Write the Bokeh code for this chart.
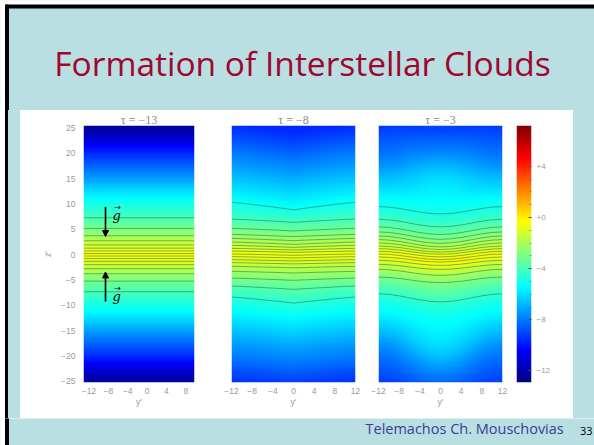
import numpy as np
from bokeh.plotting import figure
from bokeh.models import Range1d, LinearColorMapper, FixedTicker, Arrow, NormalHead, Spacer
from bokeh.layouts import column, row
from bokeh.core.properties import value
from bokeh.embed import file_html
from bokeh.resources import INLINE

# ---------------- data ----------------
SLIDE_TITLE = "Formation of Interstellar Clouds"
AUTHOR = "Telemachos Ch. Mouschovias"
PAGE_NO = "33"
PANEL_TITLES = ["τ = −13", "τ = −8", "τ = −3"]

# log-density profiles versus |z'| (colour scale values)
Z_SAMPLES = [0, 2, 4, 6, 8, 10, 12, 14, 16, 18, 20, 22, 24, 26]
LOGRHO_T13 = [-0.3, -1.2, -2.4, -3.4, -4.2, -4.9, -5.7, -6.7, -7.7, -8.6, -9.5, -10.7, -11.8, -12.5]
LOGRHO_T8 = [-0.4, -1.5, -2.6, -3.6, -4.4, -5.0, -5.6, -6.2, -6.8, -7.4, -7.9, -8.5, -9.1, -9.6]
LOGRHO_T3_EDGE = [-0.4, -1.5, -2.7, -3.7, -4.5, -5.1, -5.6, -6.3, -6.9, -7.6, -8.1, -8.5, -8.9, -9.3]
LOGRHO_T3_MID = [0.0, -1.3, -2.6, -3.6, -4.4, -5.0, -5.3, -5.6, -5.9, -6.4, -7.1, -7.8, -8.4, -9.0]

# field lines: height z' at the panel edges and their sag at y' = 0
LINES_T13 = [7.3, 5.2, 3.75, 2.75, 1.95, 1.3, 0.75, 0.25, -0.25, -0.75, -1.3, -1.95, -2.75, -3.75, -5.2, -7.3]
LINES_T8 = [10.35, 7.05, 5.22, 4.03, 3.24, 2.51, 1.86, 1.27, 0.73, 0.15, -0.37, -0.96, -1.55, -2.28, -3.27, -4.59, -6.17, -8.34]
SAG_T8 = [1.5, 0.66, 0.53, 0.46, 0.46, 0.46, 0.4, 0.33, 0.26, 0.26, 0.26, 0.26, 0.26, 0.3, 0.33, 0.46, 0.66, 1.2]
LINES_T3 = [9.5, 7.0, 5.5, 4.5, 3.7, 3.0, 2.33, 1.73, 1.2, 0.68, 0.15, -0.44, -1.1, -1.9, -2.87, -4.4, -7.7]
SAG_T3 = [1.45, 1.5, 1.5, 1.45, 1.45, 1.45, 1.3, 1.2, 1.1, 1.1, 1.1, 1.0, 1.0, 1.0, 1.2, 1.1, 1.6]
SHAPE_Y = [-12, -10, -8, -6, -4, -2, 0, 2, 4, 6, 8, 10, 12]
SHAPE_T8 = [0, 0.12, 0.28, 0.45, 0.62, 0.8, 1, 0.8, 0.62, 0.45, 0.28, 0.12, 0]
SHAPE_T3 = [0, 0.07, 0.25, 0.5, 0.75, 0.93, 1, 0.93, 0.75, 0.5, 0.25, 0.07, 0]

X_TICKS_1 = [-12, -8, -4, 0, 4, 8]
X_TICKS = [-12, -8, -4, 0, 4, 8, 12]
Z_TICKS = [-25, -20, -15, -10, -5, 0, 5, 10, 15, 20, 25]
CB_TICKS = [4, 0, -4, -8, -12]
CB_LOW, CB_HIGH = -12.9, 7.2

# g-vector arrows in the first panel
ARROWS = [(-8.6, 9.4, -8.6, 3.6), (-8.6, -9.2, -8.6, -3.4)]
G_LABELS_X = [-6.3, -6.3]
G_LABELS_Z = [7.8, -8.3]

# ---------------- styles ----------------
BG = "#BADFE2"
GRAY = "#9a9a9a"
TICK_FONT = "Liberation Sans"
Y1_RANGE = (-13.15, 9.8)
Y_RANGE = (-12, 12)
Z_RANGE = (-25.2, 25.5)
BAND_H = 308


def jet(n=256):
    x = np.linspace(0, 1, n)
    r = np.clip(1.5 - np.abs(4 * x - 3), 0, 1)
    g = np.clip(1.5 - np.abs(4 * x - 2), 0, 1)
    b = np.clip(1.5 - np.abs(4 * x - 1), 0, 1)
    return ["#%02x%02x%02x" % (int(255 * R), int(255 * G), int(255 * B)) for R, G, B in zip(r, g, b)]


mapper = LinearColorMapper(palette=jet(), low=CB_LOW, high=CB_HIGH)


def minus_labels(ticks, plus=False):
    out = {}
    for t in ticks:
        if t < 0:
            out[t] = "\u2212%d" % (-t)
        else:
            out[t] = ("+%d" % t) if plus else ("%d" % t)
    return out


def style_axis(ax, ticks, plus=False):
    ax.ticker = FixedTicker(ticks=ticks)
    ax.major_label_overrides = minus_labels(ticks, plus)
    ax.axis_line_color = None
    ax.major_tick_line_color = None
    ax.minor_tick_line_color = None
    ax.major_tick_out = 0
    ax.major_tick_in = 0
    ax.minor_tick_out = 0
    ax.minor_tick_in = 0
    ax.major_label_text_color = GRAY
    ax.major_label_text_font = TICK_FONT
    ax.major_label_text_font_size = "8.5px"
    ax.axis_label_text_color = GRAY
    ax.axis_label_text_font = TICK_FONT
    ax.axis_label_text_font_size = "8.5px"
    ax.axis_label_text_font_style = "normal"


def canvas(w, h, top_border=False):
    f = figure(width=w, height=h, x_range=Range1d(0, w), y_range=Range1d(h, 0),
               x_axis_type=None, y_axis_type=None, output_backend="svg",
               toolbar_location=None, min_border=0)
    f.grid.visible = False
    f.outline_line_color = None
    f.background_fill_color = BG
    f.border_fill_color = BG
    f.quad(left=0, right=5, top=0, bottom=h, color="white")
    if top_border:
        f.quad(left=0, right=w, top=0, bottom=4.5, color="white")
        f.quad(left=5, right=w, top=4.5, bottom=7.5, color="black")
        f.quad(left=5, right=8, top=4.5, bottom=h, color="black")
    else:
        f.quad(left=5, right=8, top=0, bottom=h, color="black")
    return f


def density_image(yr, edge_prof, mid_prof, lines, sags, shape):
    ys = np.linspace(yr[0], yr[1], 140)
    zs = np.linspace(Z_RANGE[0], Z_RANGE[1], 300)
    if shape is None:
        S = np.zeros_like(ys)
        sag = np.zeros_like(zs)
    else:
        S = np.interp(ys, SHAPE_Y, shape)
        sag = np.interp(zs, lines[::-1], sags[::-1])
    zz = np.abs(zs[:, None] + sag[:, None] * S[None, :])
    e = np.interp(zz, Z_SAMPLES, edge_prof)
    m = np.interp(zz, Z_SAMPLES, mid_prof)
    return (1 - S[None, :]) * e + S[None, :] * m


def set_title(f, text, alpha=1.0):
    f.title.text = text
    f.title.align = "center"
    f.title.text_font = "Liberation Serif"
    f.title.text_font_size = "12px"
    f.title.text_font_style = "normal"
    f.title.text_color = "#8a8a8a"
    f.title.text_alpha = alpha
    f.title.standoff = -2


def panel(title, yr, width, mb_left, mb_right, ticks, edge_prof, mid_prof, lines, sags, shape, first=False):
    f = figure(width=width, height=BAND_H, x_range=Range1d(*yr), y_range=Range1d(*Z_RANGE),
               output_backend="svg", toolbar_location=None,
               y_axis_location="left" if first else None,
               min_border_left=mb_left, min_border_right=mb_right,
               min_border_top=15, min_border_bottom=36)
    f.grid.visible = False
    f.outline_line_color = None
    f.background_fill_color = "white"
    f.border_fill_color = "white"
    set_title(f, title)

    img = density_image(yr, edge_prof, mid_prof, lines, sags, shape)
    f.image(image=[img], x=yr[0], y=Z_RANGE[0], dw=yr[1] - yr[0], dh=Z_RANGE[1] - Z_RANGE[0],
            color_mapper=mapper)

    if shape is None:
        xs = [[yr[0], yr[1]] for _ in lines]
        zs = [[z, z] for z in lines]
    else:
        xs = [list(SHAPE_Y) for _ in lines]
        zs = [[z - s * v for v in shape] for z, s in zip(lines, sags)]
    f.multi_line(xs=xs, ys=zs, line_color="#2b6a50", line_alpha=0.6, line_width=0.9)

    style_axis(f.xaxis[0], ticks)
    f.xaxis.axis_label = "y\u2032"
    f.xaxis.major_label_standoff = 5
    f.xaxis.axis_label_standoff = 0
    if first:
        style_axis(f.yaxis[0], Z_TICKS)
        f.yaxis.axis_label = "z\u2032"
        f.yaxis.major_label_standoff = 8
        f.yaxis.axis_label_standoff = 5
    return f


# ---------------- slide pieces ----------------
W = 594
title_fig = canvas(W, 110, top_border=True)
title_fig.text(x=[302], y=[62], text=[SLIDE_TITLE], text_align="center", text_baseline="alphabetic",
               text_font=value("Open Sans"), text_font_size="33.5px", text_color="#A0062E")

left_sp = Spacer(width=20, height=BAND_H, styles={
    "background": "linear-gradient(to right, #ffffff 0px, #ffffff 5px, #000000 5px, #000000 8px, %s 8px)" % BG})
right_sp = Spacer(width=21, height=BAND_H, styles={"background": BG})

f1 = panel(PANEL_TITLES[0], Y1_RANGE, 192, 63, 18, X_TICKS_1, LOGRHO_T13, LOGRHO_T13,
           LINES_T13, None, None, first=True)
for (xs0, zs0, xe0, ze0) in ARROWS:
    f1.add_layout(Arrow(end=NormalHead(size=6, fill_color="black", line_color="black"),
                        x_start=xs0, y_start=zs0, x_end=xe0, y_end=ze0,
                        line_width=1.6, line_color="black"))
f1.text(x=G_LABELS_X, y=G_LABELS_Z, text=["g", "g"], text_align="center",
        text_baseline="middle", text_font=value("DejaVu Serif"), text_font_style="italic",
        text_font_size="13px", text_color="black")
f1.text(x=G_LABELS_X, y=G_LABELS_Z, text=["\u2192", "\u2192"], text_align="center",
        text_baseline="middle", y_offset=-8, x_offset=1, text_font=value("DejaVu Sans"),
        text_font_size="8px", text_color="black")

f2 = panel(PANEL_TITLES[1], Y_RANGE, 154, 19, 11, X_TICKS, LOGRHO_T8, LOGRHO_T8,
           LINES_T8, SAG_T8, SHAPE_T8)
f3 = panel(PANEL_TITLES[2], Y_RANGE, 143, 12, 7, X_TICKS, LOGRHO_T3_EDGE, LOGRHO_T3_MID,
           LINES_T3, SAG_T3, SHAPE_T3)

# colour bar
cb = figure(width=64, height=BAND_H, x_range=Range1d(0, 1), y_range=Range1d(CB_LOW, CB_HIGH),
            output_backend="svg", toolbar_location=None, x_axis_location=None,
            y_axis_location="right", min_border_left=7, min_border_right=42,
            min_border_top=15, min_border_bottom=36)
cb.grid.visible = False
cb.outline_line_color = None
cb.background_fill_color = "white"
cb.border_fill_color = "white"
set_title(cb, "τ", alpha=0.0)
grad = np.linspace(CB_LOW, CB_HIGH, 256)[:, None]
cb.image(image=[grad], x=0, y=CB_LOW, dw=1, dh=CB_HIGH - CB_LOW, color_mapper=mapper)
style_axis(cb.yaxis[0], CB_TICKS, plus=True)
cb.yaxis.ticker = FixedTicker(ticks=CB_TICKS, minor_ticks=list(range(-12, 8)))
cb.yaxis.major_tick_in = 3
cb.yaxis.major_tick_line_color = "#555555"
cb.yaxis.minor_tick_in = 2
cb.yaxis.minor_tick_line_color = "#555555"
cb.yaxis.minor_tick_line_alpha = 0.5
cb.yaxis.major_label_standoff = 5
cb.yaxis.major_label_text_font_size = "8px"

footer = canvas(W, 27)
footer.text(x=[365], y=[10], text=[AUTHOR], text_baseline="alphabetic",
            text_font=value("Open Sans"), text_font_size="14.5px", text_color="#3B3B9C")
footer.text(x=[592], y=[12], text=[PAGE_NO], text_align="right", text_baseline="alphabetic",
            text_font=value("Open Sans"), text_font_size="11px", text_color="black")

layout = column(title_fig, row(left_sp, f1, f2, f3, cb, right_sp), footer)

open("out.html", "w").write(file_html(layout, INLINE))
